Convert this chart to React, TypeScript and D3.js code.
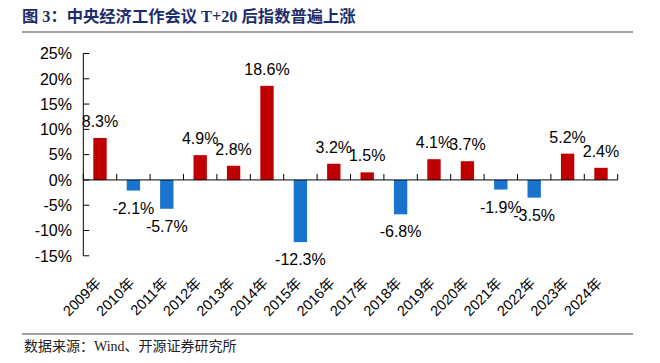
import React from 'react';
import * as d3 from 'd3';

const years = ['2009年', '2010年', '2011年', '2012年', '2013年', '2014年', '2015年', '2016年',
  '2017年', '2018年', '2019年', '2020年', '2021年', '2022年', '2023年', '2024年'];
const changes = [8.3, -2.1, -5.7, 4.9, 2.8, 18.6, -12.3, 3.2, 1.5, -6.8, 4.1, 3.7, -1.9, -3.5, 5.2, 2.4];
const yTicks = [25, 20, 15, 10, 5, 0, -5, -10, -15];

const title = '图 3：中央经济工作会议 T+20 后指数普遍上涨';
const source = '数据来源：Wind、开源证券研究所';

const W = 660;
const H = 363;
const RED = '#C00000';
const BLUE = '#1874CD';
const FONT = 'Arial, "Liberation Sans", "Noto Sans CJK SC", sans-serif';
const SERIF = '"Times New Roman", "Liberation Serif", "Noto Sans CJK SC", serif';

export default function App() {
  const x = d3.scaleBand<string>()
    .domain(years)
    .range([83.3, 617.7])
    .paddingInner(0.6)
    .paddingOuter(0.3);
  const y = d3.scaleLinear().domain([-15, 25]).range([255.8, 53.5]);

  const y0 = y(0);
  const step = x.step();
  const [xStart] = x.range();
  const edges = d3.range(years.length + 1).map(i => xStart + i * step);

  return (
    <svg width={W} height={H} style={{ position: 'absolute', left: 0, top: 0, background: '#fff' }}>
      {/* header */}
      <text x={22} y={22} fontFamily={SERIF} fontWeight="bold" fontSize={16.3} fill="#1C2D6B">{title}</text>
      <line x1={22} x2={633} y1={32} y2={32} stroke="#7f7f7f" strokeWidth={1.5} />

      {/* bars */}
      {changes.map((v, i) => (
        <rect
          key={years[i]}
          x={x(years[i])!}
          y={v >= 0 ? y(v) : y0}
          width={x.bandwidth()}
          height={Math.abs(y(v) - y0)}
          fill={v >= 0 ? RED : BLUE}
        />
      ))}

      {/* y axis */}
      <line x1={xStart} x2={xStart} y1={y(25)} y2={y(-15)} stroke="#000" strokeWidth={1} />
      {yTicks.map(t => (
        <g key={t}>
          <line x1={xStart} x2={xStart + 6} y1={y(t)} y2={y(t)} stroke="#000" strokeWidth={1} />
          <text x={72} y={y(t)} dy="0.36em" textAnchor="end" fontFamily={FONT} fontSize={16} fill="#000">
            {t}%
          </text>
        </g>
      ))}

      {/* x axis */}
      <line x1={xStart} x2={edges[edges.length - 1]} y1={y0} y2={y0} stroke="#000" strokeWidth={1} />
      {edges.map((e, i) => (
        <line key={i} x1={e} x2={e} y1={y0} y2={y0 - 6} stroke="#000" strokeWidth={1} />
      ))}

      {/* value labels */}
      {changes.map((v, i) => (
        <text
          key={'l' + years[i]}
          x={x(years[i])! + x.bandwidth() / 2}
          y={v >= 0 ? y(v) - 11 : y(v) + 23}
          textAnchor="middle"
          fontFamily={FONT}
          fontSize={16}
          fill="#000"
        >
          {v.toFixed(1)}%
        </text>
      ))}

      {/* category labels */}
      {years.map(yr => {
        const cx = x(yr)! + x.bandwidth() / 2 + 2;
        const cy = 284;
        return (
          <text
            key={'c' + yr}
            x={cx}
            y={cy}
            textAnchor="end"
            transform={`rotate(-45, ${cx}, ${cy})`}
            fontFamily={FONT}
            fontSize={14.5}
            fill="#000"
          >
            {yr}
          </text>
        );
      })}

      {/* footer */}
      <line x1={22} x2={633} y1={334} y2={334} stroke="#7f7f7f" strokeWidth={1.5} />
      <text x={24} y={351} fontFamily={SERIF} fontSize={14} fill="#222">{source}</text>
    </svg>
  );
}
